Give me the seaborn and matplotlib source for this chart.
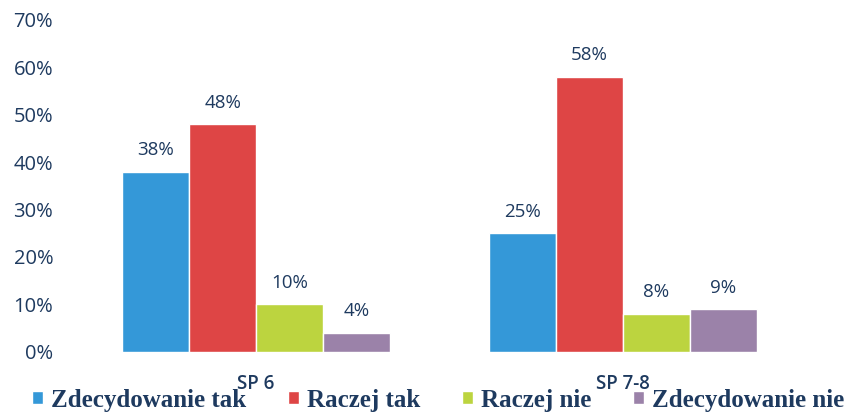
import matplotlib
matplotlib.use("Agg")
import matplotlib.pyplot as plt
import seaborn as sns
import pandas as pd
from matplotlib.patches import Patch

groups = ["SP 6", "SP 7-8"]
answers = ["Zdecydowanie tak", "Raczej tak", "Raczej nie", "Zdecydowanie nie"]
sp6 = [38, 48, 10, 4]
sp78 = [25, 58, 8, 9]
yticks = [0, 10, 20, 30, 40, 50, 60, 70]
colors = ["#3498D8", "#DE4545", "#BCD43F", "#9B82A9"]

rows = []
for g, vals in zip(groups, [sp6, sp78]):
    for a, v in zip(answers, vals):
        rows.append({"grupa": g, "odp": a, "val": v})
df = pd.DataFrame(rows)

sns.set_theme(style="white")
plt.rcParams['font.family'] = ['DejaVu Sans']
navy = "#1E3A5F"

fig = plt.figure(figsize=(8.45, 4.12), dpi=100)
ax = fig.add_axes([0.086, 0.146, 0.868, 0.806])
sns.barplot(data=df, x="grupa", y="val", hue="odp", hue_order=answers,
            palette=colors, width=0.73, saturation=1, ax=ax, legend=False)
for c in ax.containers:
    ax.bar_label(c, fmt="%d%%", padding=9, color=navy, fontsize=13.5,
                 family="Open Sans")
ax.set_ylim(0, 70)
ax.set_xlim(-0.5, 1.5)
ax.set_yticks(yticks)
ax.set_yticklabels([f"{t}%" for t in yticks], color=navy, fontsize=14.5,
                   family="Open Sans")
ax.set_xticks([0, 1])
ax.set_xticklabels(groups, color=navy, fontsize=13.5, family="Open Sans",
                   fontweight="semibold")
ax.tick_params(axis="x", pad=16, length=0)
ax.tick_params(axis="y", length=0, pad=14)
ax.set_xlabel("")
ax.set_ylabel("")
for s in ax.spines.values():
    s.set_visible(False)

handles = [Patch(facecolor=c) for c in colors]
leg = fig.legend(handles, answers, loc="center left",
                 bbox_to_anchor=(0.038, 1 - 400 / 412),
                 ncol=4, frameon=False, handlelength=0.45, handleheight=0.45,
                 handletextpad=0.3, columnspacing=1.68, borderpad=0,
                 borderaxespad=0,
                 prop={"family": "Liberation Serif", "weight": "bold", "size": 18})
for t in leg.get_texts():
    t.set_color(navy)

fig.savefig("out.png", dpi=100)
